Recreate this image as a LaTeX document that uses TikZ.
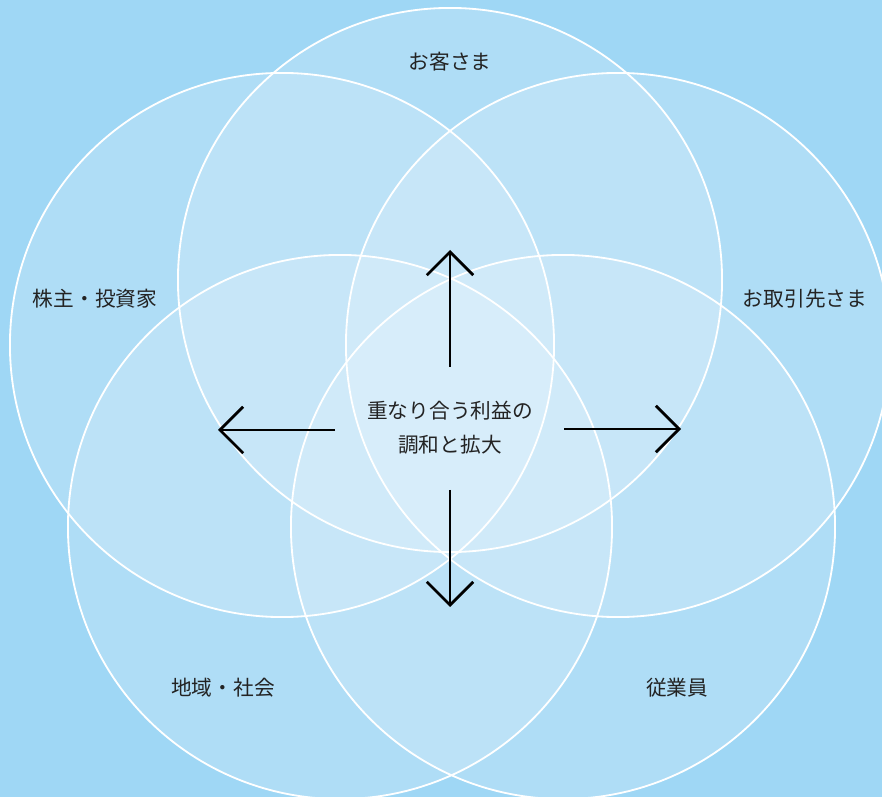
\documentclass[tikz,border=0pt]{standalone}
\usepackage{fontspec}
\setmainfont{Noto Sans CJK JP}
\definecolor{SkyBg}{RGB}{159, 215, 245}
\definecolor{InkGray}{RGB}{35, 35, 35}
\usetikzlibrary{arrows.meta, positioning}

\begin{document}
\begin{tikzpicture}[x=0.025cm, y=0.025cm,
        ring/.style={circle, draw=white, line width=1.3pt, fill=white, fill opacity=0.17, minimum size=13.6cm, inner sep=0pt},
        party/.style={font=\fontsize{14.7}{24}\selectfont, text=InkGray, inner sep=0pt, align=center},
        arrow/.style={-{Straight Barb[length=5.8mm, width=11.6mm]}, line width=1.9pt, draw=black}]

        % Background
        \useasboundingbox (0,0) rectangle (882,797);
        \fill[SkyBg] (0,0) rectangle (882,797);
        \clip (0,0) rectangle (882,797);

        % Circles
        \node[ring] (cCust) at (450,517) {};
        \node[ring] (cHold) at (282,452) {};
        \node[ring] (cPart) at (618,452) {};
        \node[ring] (cComm) at (340,270) {};
        \node[ring] (cStaff) at (563,270) {};

        % Labels
        \node[party] (lCust) at (450,735) {お客さま};
        \node[party] (lHold) at (95,498) {株主・投資家};
        \node[party] (lPart) at (805,498) {お取引先さま};
        \node[party] (lComm) at (223,109) {地域・社会};
        \node[party] (lStaff) at (677,109) {従業員};

        % Center
        \node[party] (core) at (450,369) {重なり合う利益の\\調和と拡大};

        % Arrow ends
        \coordinate (upS) at (450,430);
        \coordinate (upE) at (450,547);
        \coordinate (dnS) at (450,307);
        \coordinate (dnE) at (450,190);
        \coordinate (ltS) at (335,367);
        \coordinate (ltE) at (218,367);
        \coordinate (rtS) at (564,368);
        \coordinate (rtE) at (681,368);

        % Arrows
        \draw[arrow] (upS) -- (upE);
        \draw[arrow] (dnS) -- (dnE);
        \draw[arrow] (ltS) -- (ltE);
        \draw[arrow] (rtS) -- (rtE);

    \end{tikzpicture}
\end{document}
